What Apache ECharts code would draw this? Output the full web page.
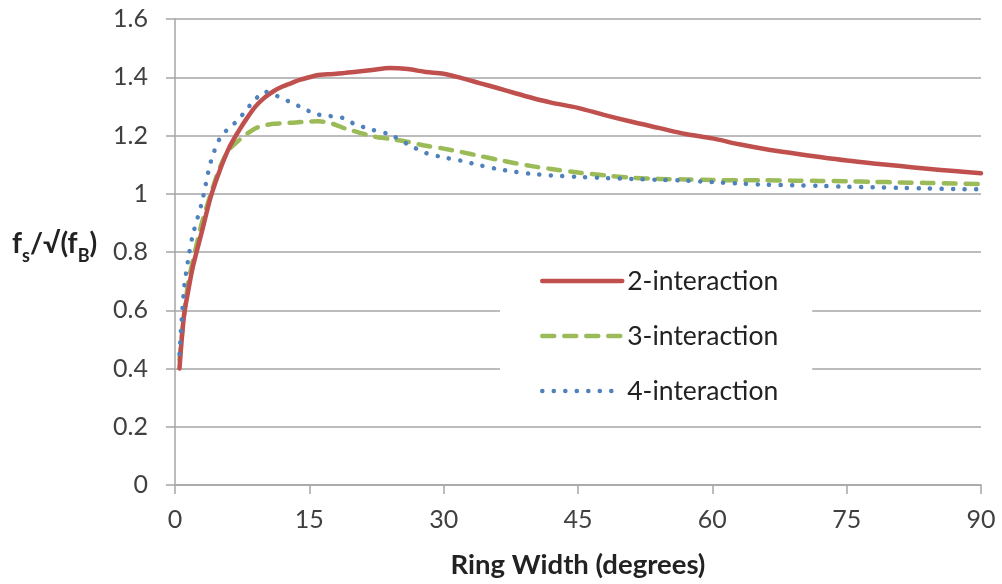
<!DOCTYPE html>
<html><head><meta charset="utf-8">
<script src="https://cdn.jsdelivr.net/npm/echarts@6/dist/echarts.min.js"></script>
<style>html,body{margin:0;padding:0;background:#fff}#c{width:1002px;height:584px}</style>
</head><body><div id="c"></div>
<script>
const xs = [0.5,1,1.5,2,3,4,5,6,7,8,9,10,11,12,13,14,15,16,17,18,19,20,22,24,26,28,30,32,34,36,38,40,42,45,48,51,54,57,60,63,66,69,72,75,78,81,84,87,90];
const y2 = [0.40,0.58,0.67,0.75,0.87,0.99,1.08,1.155,1.21,1.258,1.30,1.33,1.352,1.368,1.38,1.392,1.40,1.408,1.41,1.412,1.415,1.418,1.425,1.432,1.428,1.418,1.412,1.397,1.38,1.363,1.345,1.328,1.313,1.295,1.27,1.247,1.226,1.205,1.19,1.17,1.153,1.139,1.126,1.114,1.104,1.095,1.086,1.078,1.07];
const y3 = [0.43,0.58,0.70,0.77,0.90,1.00,1.09,1.15,1.18,1.205,1.225,1.235,1.24,1.242,1.244,1.246,1.248,1.249,1.245,1.236,1.224,1.215,1.198,1.188,1.178,1.165,1.155,1.143,1.13,1.117,1.105,1.094,1.085,1.073,1.063,1.055,1.051,1.049,1.047,1.046,1.046,1.045,1.044,1.043,1.041,1.039,1.037,1.035,1.033];
const y4 = [0.45,0.67,0.78,0.86,0.97,1.11,1.19,1.225,1.252,1.29,1.325,1.35,1.342,1.325,1.314,1.298,1.283,1.272,1.268,1.264,1.258,1.24,1.22,1.203,1.17,1.14,1.125,1.113,1.098,1.085,1.075,1.068,1.063,1.058,1.054,1.051,1.048,1.045,1.04,1.035,1.031,1.029,1.027,1.024,1.022,1.02,1.018,1.016,1.015];
const names = ['2-interaction','3-interaction','4-interaction'];
const xTicks = [0,15,30,45,60,75,90];
const yTicks = [0,0.2,0.4,0.6,0.8,1,1.2,1.4,1.6];

const pair = ys => xs.map((x,i)=>[x, ys[i]]);
const FONT = 'Lato, "Open Sans", sans-serif';
const chart = echarts.init(document.getElementById('c'), null, {renderer:'canvas'});
chart.setOption({
  animation:false,
  backgroundColor:'#fff',
  grid:{left:175, right:21, top:19, bottom:97, containLabel:false},
  xAxis:{type:'value', min:xTicks[0], max:xTicks[xTicks.length-1], interval:15,
    name:'Ring Width (degrees)', nameLocation:'middle', nameGap:66,
    nameTextStyle:{fontFamily:FONT, fontSize:27.5, fontWeight:'bold', color:'#222'},
    axisLine:{show:true, lineStyle:{color:'#a6a6a6', width:1.5}},
    axisTick:{show:true, length:9, lineStyle:{color:'#a6a6a6', width:1.5}},
    axisLabel:{fontFamily:FONT, fontSize:25, color:'#404040', margin:22},
    splitLine:{show:false}},
  yAxis:{type:'value', min:yTicks[0], max:yTicks[yTicks.length-1], interval:0.2,
    axisLine:{show:true, lineStyle:{color:'#a6a6a6', width:1.5}},
    axisTick:{show:true, length:9, lineStyle:{color:'#a6a6a6', width:1.5}},
    axisLabel:{fontFamily:FONT, fontSize:25, color:'#404040', margin:27},
    splitLine:{show:true, lineStyle:{color:'#a6a6a6', width:1.5}}},
  legend:{orient:'vertical', left:500, top:254, backgroundColor:'#fff',
    padding:[12,34,12,40], itemGap:25, itemWidth:80, itemHeight:14,
    textStyle:{fontFamily:FONT, fontSize:26.5, color:'#222', lineHeight:30, padding:[0,0,0,0]},
    itemStyle:{opacity:0},
    lineStyle:{width:'inherit'},
    data:names},
  graphic:[{type:'text', left:12, top:230, z:10,
    style:{text:'{a|f}{s|s}{a|/√(f}{s|B}{a|)}', fill:'#222',
      rich:{a:{fontFamily:FONT, fontSize:28, fontWeight:'bold', fill:'#222', lineHeight:36, verticalAlign:'bottom'},
            s:{fontFamily:FONT, fontSize:18, fontWeight:'bold', fill:'#222', lineHeight:28, verticalAlign:'bottom', padding:[0,0,-7,0]}}}}],
  series:[
    {name:names[0], type:'line', data:pair(y2), showSymbol:false, symbol:'none', smooth:0.3, z:3,
     lineStyle:{color:'#c0504d', width:4.5, cap:'round', join:'round'}, itemStyle:{color:'#c0504d'}},
    {name:names[1], type:'line', data:pair(y3), showSymbol:false, symbol:'none', smooth:0.3, z:2,
     lineStyle:{color:'#9bbb59', width:4.5, type:[12,10], cap:'round', join:'round'}, itemStyle:{color:'#9bbb59'}},
    {name:names[2], type:'line', data:pair(y4), showSymbol:false, symbol:'none', smooth:0.3, z:4,
     lineStyle:{color:'#4f81bd', width:4.5, type:[0.1,11.4], cap:'round', join:'round'}, itemStyle:{color:'#4f81bd'}}
  ]
});
</script></body></html>
